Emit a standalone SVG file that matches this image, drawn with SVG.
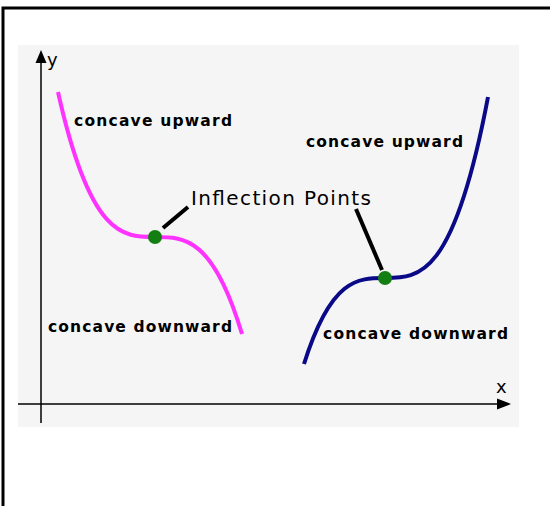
<svg xmlns="http://www.w3.org/2000/svg" width="550" height="506" viewBox="0 0 550 506">
<style>
.lbl{font-family:"DejaVu Sans","Liberation Sans",sans-serif;font-weight:bold;font-size:15.5px;fill:#000}
.axl{font-family:"DejaVu Sans","Liberation Sans",sans-serif;font-size:18px;fill:#000}
.ax{stroke:#000;stroke-width:1.5;fill:none}
.lead{stroke:#000;stroke-width:4;stroke-linecap:butt}
.dot{fill:#137f13}
</style>
<rect x="0" y="0" width="550" height="506" fill="#fff"/>
<rect x="3" y="8" width="560" height="520" fill="none" stroke="#000" stroke-width="3"/>
<rect id="panel" x="18" y="45" width="501" height="382" fill="#f5f5f5"/>
<g id="axes">
<line class="ax" x1="41" y1="62" x2="41" y2="423"/>
<polygon points="41,50 35.5,63 46.5,63" fill="#000"/>
<line class="ax" x1="18" y1="404" x2="498" y2="404"/>
<polygon points="511,404 497,398.5 497,409.5" fill="#000"/>
<text class="axl" x="47" y="66">y</text>
<text class="axl" x="496" y="393">x</text>
</g>
<g id="curve-left">
<path d="M58,92 C90.3,237 122.7,237 155,237 C184,237 213,237 242,334" fill="none" stroke="#ff33ff" stroke-width="4"/>
</g>
<g id="curve-right">
<path d="M304,364 C331,278 358,278 385,278 C419.3,278 453.7,278 488,97" fill="none" stroke="#0a0a88" stroke-width="4"/>
</g>
<g id="connectors">
<line class="lead" x1="163" y1="228" x2="188" y2="207"/>
<line class="lead" x1="356" y1="209" x2="382" y2="270"/>
</g>
<g id="point-left"><circle class="dot" cx="155" cy="237" r="7"/></g>
<g id="point-right"><circle class="dot" cx="385" cy="278" r="7"/></g>
<g id="label-inflection">
<text x="191" y="205" font-family="'DejaVu Sans','Liberation Sans',sans-serif" font-size="20" textLength="180" lengthAdjust="spacing">Inflection Points</text>
</g>
<g id="label-left-up"><text class="lbl" x="74" y="126" textLength="158" lengthAdjust="spacing">concave upward</text></g>
<g id="label-left-down"><text class="lbl" x="48" y="332" textLength="184" lengthAdjust="spacing">concave downward</text></g>
<g id="label-right-up"><text class="lbl" x="306" y="147" textLength="157" lengthAdjust="spacing">concave upward</text></g>
<g id="label-right-down"><text class="lbl" x="323" y="339" textLength="185" lengthAdjust="spacing">concave downward</text></g>
</svg>
